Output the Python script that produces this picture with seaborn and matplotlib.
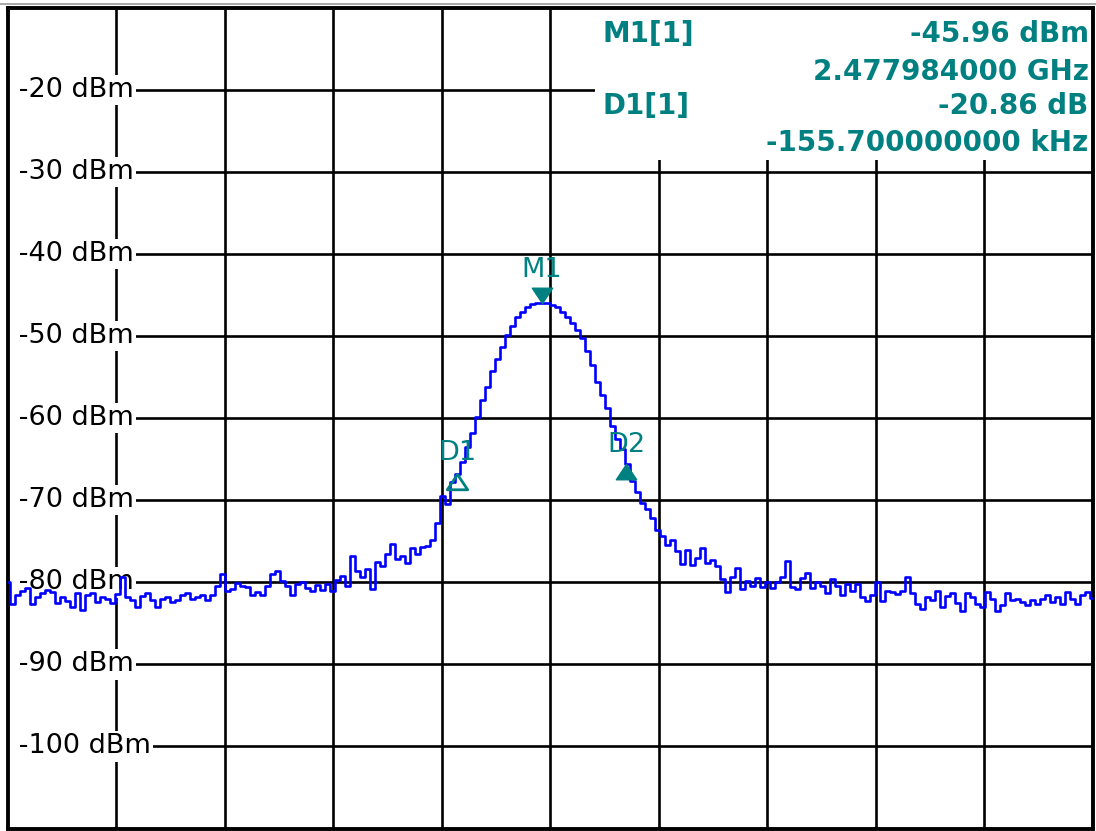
import numpy as np
import pandas as pd
import matplotlib
matplotlib.use("Agg")
import matplotlib.pyplot as plt
import seaborn as sns
from matplotlib.path import Path
from matplotlib.patches import Rectangle
from matplotlib.lines import Line2D

# ---------------- sweep settings ----------------
CENTER_MHZ = 2478.0
SPAN_MHZ = 2.0
REF_TOP_DBM = -10.0
RANGE_DB = 100.0

# ---------------- trace (dBm), one value per sweep bin ----------------
trace_left = [
    -80.0, -82.6, -81.5, -81.0, -80.7, -82.6, -81.8, -81.3, -80.9, -81.2,
    -82.5, -81.8, -82.3, -83.0, -81.3, -83.4, -81.5, -81.3, -82.4, -81.8,
    -82.0, -82.5, -81.4, -79.3, -81.8, -82.2, -83.0, -81.7, -81.3, -82.2,
    -83.0, -82.0, -81.8, -82.4, -82.2, -81.5, -81.3, -82.0, -81.8, -81.5,
    -82.2, -81.5, -80.5, -79.0, -81.0, -80.8, -80.1, -80.5, -80.6,
]
trace_rise = [
    -81.5, -81.2, -81.6, -80.4, -79.0, -78.6, -79.8, -80.5, -81.6, -80.2,
    -79.9, -80.7, -81.1, -80.3, -80.9, -80.2, -81.0, -79.7, -79.2, -80.4,
    -76.8, -78.6, -79.3, -78.4, -80.8, -77.5, -78.0, -76.5, -75.3, -77.2,
    -76.8, -77.6, -75.8, -76.5, -75.7, -75.6, -74.8, -72.8, -69.5, -70.5,
]
trace_peak = [
    -67.8, -66.8, -65.3, -63.5, -61.8, -59.8, -57.8, -56.2, -54.3, -52.8,
    -51.3, -49.9, -48.7, -47.7, -47.0, -46.4, -46.1, -46.0, -45.96, -46.0,
    -46.2, -46.5, -47.0, -47.6, -48.4, -49.2, -50.2, -51.8, -53.5, -55.6,
    -57.2, -58.8, -61.0, -62.5, -63.8, -65.6, -67.6, -69.0, -70.3, -71.0,
    -72.2, -73.6,
]
trace_fall = [
    -74.4, -75.5, -74.8, -76.2, -77.8, -76.0, -77.9, -77.0, -75.8, -77.6,
    -77.3, -78.0, -79.6, -81.2, -79.3, -78.3, -80.8, -79.8, -80.5, -79.5,
    -80.6, -79.9, -80.7, -80.0, -79.4, -77.4, -80.6, -80.8, -79.5, -78.8,
    -80.7, -80.0, -80.4, -81.3, -79.6, -80.5, -81.5, -80.2,
]
trace_right = [
    -81.0, -80.2, -81.8, -82.3, -81.6, -80.0, -82.3, -81.0, -81.2, -81.4,
    -81.0, -79.4, -81.3, -82.6, -83.2, -81.8, -82.2, -81.0, -83.0, -81.7,
    -81.3, -82.5, -83.5, -81.3, -81.8, -82.6, -83.0, -81.2, -82.0, -83.5,
    -82.8, -81.3, -82.2, -82.0, -82.4, -82.7, -82.2, -82.6, -82.0, -81.5,
    -82.4, -81.8, -82.6, -81.2, -82.0, -82.6, -81.5, -81.2, -81.9,
]
trace_dbm = trace_left + trace_rise + trace_peak + trace_fall + trace_right

# ---------------- markers ----------------
m1_freq_mhz = 2477.984
m1_level_dbm = -45.96
d1_delta_db = -20.86
d1_delta_khz = -155.7
d2_freq_mhz = 2478.140
d2_level_dbm = -65.6

level_ticks = [-20, -30, -40, -50, -60, -70, -80, -90, -100]
level_labels = [f"{v} dBm" for v in level_ticks]

TEAL = "#008080"
BLUE = "#0000FF"

# sweep bins spread evenly across the span
freq_mhz = np.linspace(CENTER_MHZ - SPAN_MHZ / 2, CENTER_MHZ + SPAN_MHZ / 2, len(trace_dbm))
df = pd.DataFrame({"freq": freq_mhz, "level": trace_dbm})

sns.set_theme(style="white")
plt.rcParams["font.family"] = ["DejaVu Sans"]

W, H = 1096, 831
fig = plt.figure(figsize=(W / 100, H / 100), dpi=100)
fig.patch.set_facecolor("white")
x0, x1, y0, y1 = 8, 1092.5, 8, 828.5
ax = fig.add_axes([x0 / W, (H - y1) / H, (x1 - x0) / W, (y1 - y0) / H])
ax.set_facecolor("white")

# thin grey rule along the top edge of the window
fig.add_artist(Line2D([0, 1], [1 - 3.5 / H, 1 - 3.5 / H], transform=fig.transFigure,
                      color="#9a9a9a", lw=1.2))

ax.set_xlim(CENTER_MHZ - SPAN_MHZ / 2, CENTER_MHZ + SPAN_MHZ / 2)
ax.set_ylim(REF_TOP_DBM - RANGE_DB, REF_TOP_DBM)
ax.set_xticks(CENTER_MHZ + np.arange(-4, 5) * SPAN_MHZ / 10)
ax.set_yticks(level_ticks)
ax.tick_params(left=False, bottom=False, labelleft=False, labelbottom=False)
ax.set_axisbelow(True)
ax.grid(True, color="black", lw=1.9)
for sp in ax.spines.values():
    sp.set_color("black")
    sp.set_linewidth(2.8)

# level labels sit inside the grid on a white patch
for v, lab in zip(level_ticks, level_labels):
    ax.text(0.002, v, " " + lab, transform=ax.get_yaxis_transform(),
            ha="left", va="center", fontsize=19.5, color="black", zorder=2.5,
            bbox=dict(boxstyle="square,pad=0.08", fc="white", ec="none"))

# marker readout panel
ax.add_patch(Rectangle((0.541, 0.815), 0.47, 0.2, transform=ax.transAxes,
                       facecolor="white", edgecolor="none", zorder=2))

# trace
sns.lineplot(data=df, x="freq", y="level", ax=ax, color=BLUE, lw=1.9,
             drawstyle="steps-mid", estimator=None, sort=False, zorder=3)
ax.set_xlabel("")
ax.set_ylabel("")

# marker symbols: tip on the trace point
tri_down = Path([(0, 0), (-0.5, 0.75), (0.5, 0.75), (0, 0)],
                [Path.MOVETO, Path.LINETO, Path.LINETO, Path.CLOSEPOLY])
tri_up = Path([(0, 0), (-0.5, -0.75), (0.5, -0.75), (0, 0)],
              [Path.MOVETO, Path.LINETO, Path.LINETO, Path.CLOSEPOLY])

d1_freq_mhz = m1_freq_mhz + d1_delta_khz / 1000.0
d1_level_dbm = m1_level_dbm + d1_delta_db

ax.plot([m1_freq_mhz], [m1_level_dbm], marker=tri_down, ms=22, color=TEAL,
        mec=TEAL, ls="none", zorder=4)
ax.plot([d1_freq_mhz], [d1_level_dbm], marker=tri_up, ms=22, mfc="none",
        mec=TEAL, mew=2.0, ls="none", zorder=4)
ax.plot([d2_freq_mhz], [d2_level_dbm], marker=tri_up, ms=22, color=TEAL,
        mec=TEAL, ls="none", zorder=4)

for name, fx, lv, dy in [("M1", m1_freq_mhz, m1_level_dbm, 24),
                         ("D1", d1_freq_mhz, d1_level_dbm, 15),
                         ("D2", d2_freq_mhz, d2_level_dbm, 14)]:
    ax.annotate(name, (fx, lv), xytext=(0, dy), textcoords="offset points",
                ha="center", va="center", fontsize=19.5, color=TEAL, zorder=5)

# readout text
info_kw = dict(transform=ax.transAxes, fontsize=20, fontweight="bold",
               color=TEAL, va="center", zorder=5)
xl, xr = 0.548, 0.9965
rows = [0.9685, 0.9225, 0.8800, 0.8355]
ax.text(xl, rows[0], "M1[1]", ha="left", **info_kw)
ax.text(xr, rows[0], f"{m1_level_dbm:.2f} dBm", ha="right", **info_kw)
ax.text(xr, rows[1], f"{m1_freq_mhz / 1000:.9f} GHz", ha="right", **info_kw)
ax.text(xl, rows[2], "D1[1]", ha="left", **info_kw)
ax.text(xr, rows[2], f"{d1_delta_db:.2f} dB", ha="right", **info_kw)
ax.text(xr, rows[3], f"{d1_delta_khz:.9f} kHz", ha="right", **info_kw)

fig.savefig("out.png", dpi=100, facecolor="white")
